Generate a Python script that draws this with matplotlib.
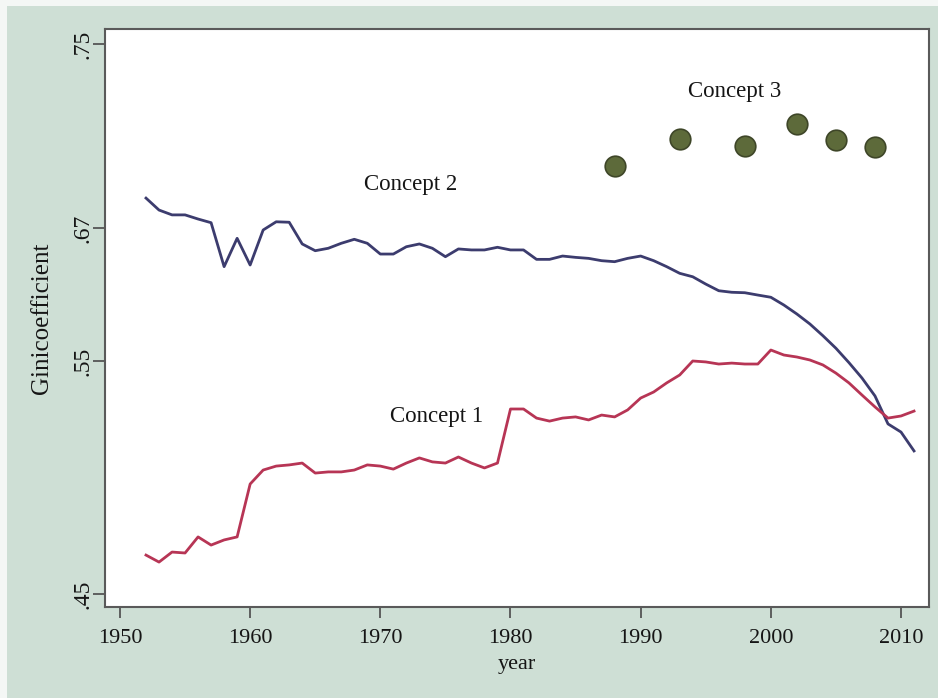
import numpy as np
import matplotlib
matplotlib.use("Agg")
import matplotlib.pyplot as plt
from matplotlib.patches import Rectangle

# ---------------- data ----------------
years = list(range(1952, 2012))

concept1 = [0.4667, 0.4637, 0.4680, 0.4676, 0.4745, 0.4710, 0.4732, 0.4745,
            0.4972, 0.5032, 0.5049, 0.5054, 0.5062, 0.5019, 0.5024, 0.5024,
            0.5032, 0.5054, 0.5049, 0.5036, 0.5062, 0.5084, 0.5067, 0.5062,
            0.5088, 0.5062, 0.5041, 0.5062, 0.5294, 0.5294, 0.5255, 0.5242,
            0.5255, 0.5260, 0.5247, 0.5268, 0.5260, 0.5290, 0.5341, 0.5367,
            0.5406, 0.5440, 0.5500, 0.5496, 0.5487, 0.5491, 0.5487, 0.5487,
            0.5599, 0.5554, 0.5536, 0.5509, 0.5483, 0.5448, 0.5406, 0.5354,
            0.5303, 0.5255, 0.5264, 0.5285]

concept2 = [0.6830, 0.6778, 0.6757, 0.6757, 0.6739, 0.6723, 0.6351, 0.6607,
            0.6366, 0.6682, 0.6727, 0.6725, 0.6556, 0.6495, 0.6517, 0.6562,
            0.6598, 0.6562, 0.6465, 0.6465, 0.6531, 0.6556, 0.6517, 0.6441,
            0.6511, 0.6502, 0.6502, 0.6526, 0.6502, 0.6502, 0.6417, 0.6417,
            0.6447, 0.6435, 0.6426, 0.6405, 0.6396, 0.6426, 0.6447, 0.6405,
            0.6351, 0.6291, 0.6260, 0.6194, 0.6134, 0.6120, 0.6116, 0.6095,
            0.6075, 0.6005, 0.5924, 0.5834, 0.5728, 0.5615, 0.5493, 0.5427,
            0.5350, 0.5230, 0.5195, 0.5114]

concept3_years = [1988, 1993, 1998, 2002, 2005, 2008]
concept3 = [0.6970, 0.7087, 0.7057, 0.7151, 0.7083, 0.7051]

x_ticks = [1950, 1960, 1970, 1980, 1990, 2000, 2010]
y_ticks = [0.45, 0.55, 0.67, 0.75]
y_tick_labels = [".45", ".55", ".67", ".75"]

# ---------------- axis scale (uneven spacing of the printed ticks) ----------------
_knot_vals = np.array([0.40, 0.45, 0.55, 0.67, 0.75, 0.80])
_knot_pos = np.array([-116.5, 0.0, 233.0, 366.0, 550.0, 665.0])

def _fwd(v):
    return np.interp(np.asarray(v, dtype=float), _knot_vals, _knot_pos)

def _inv(p):
    return np.interp(np.asarray(p, dtype=float), _knot_pos, _knot_vals)

# ---------------- figure ----------------
serif = ["Liberation Serif", "DejaVu Serif"]
plt.rcParams["font.family"] = serif

W, H = 938, 698
fig = plt.figure(figsize=(W / 100, H / 100), dpi=100, facecolor="#f4f7f5")
fig.patches.append(Rectangle((7 / W, 0), 1, 1 - 6 / H, transform=fig.transFigure,
                             facecolor="#cedfd5", edgecolor="none", zorder=-10))

ax = fig.add_axes([105 / W, 1 - 607 / H, (929 - 105) / W, (607 - 29) / H])
ax.set_zorder(1)
ax.set_facecolor("white")
ax.set_yscale("function", functions=(_fwd, _inv))

ax.plot(years, concept2, color="#3c3c6e", lw=2.0, solid_joinstyle="round")
ax.plot(years, concept1, color="#b73555", lw=2.0, solid_joinstyle="round")
ax.scatter(concept3_years, concept3, s=220, color="#5d6a3a", edgecolors="#3e4628",
           linewidths=1.2, zorder=3)

txt = dict(ha="center", va="center", fontsize=16.5, color="#151515")
ax.text(1972.3, 0.6887, "Concept 2", **txt)
ax.text(1974.3, 0.5260, "Concept 1", **txt)
ax.text(1997.2, 0.7292, "Concept 3", **txt)

ax.set_xlim(1948.85, 2012.15)
ax.set_ylim(0.44442, 0.75652)

ax.set_xticks(x_ticks)
ax.set_xticklabels([str(t) for t in x_ticks])
ax.set_yticks(y_ticks)
ax.set_yticklabels(y_tick_labels, rotation=90, va="center")
ax.yaxis.set_minor_locator(matplotlib.ticker.NullLocator())
ax.xaxis.set_minor_locator(matplotlib.ticker.NullLocator())

ax.tick_params(axis="both", direction="out", width=1.3, color="#555555",
               labelcolor="#151515")
ax.tick_params(axis="x", length=8, labelsize=16, pad=8)
ax.tick_params(axis="y", length=9, labelsize=17, pad=-1)
for s in ax.spines.values():
    s.set_color("#5a5a5a")
    s.set_linewidth(1.5)

ax.set_xlabel("year", fontsize=16, color="#151515", labelpad=5)
ax.set_ylabel("Ginicoefficient", fontsize=18, color="#151515", labelpad=14)

fig.savefig("out.png", dpi=100, facecolor=fig.get_facecolor())
